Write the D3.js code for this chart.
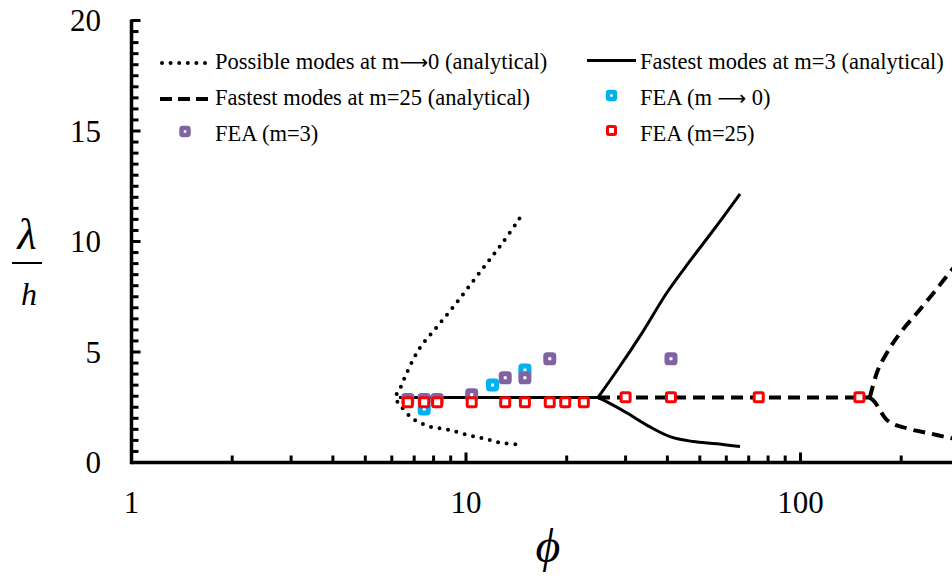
<!DOCTYPE html>
<html>
<head>
<meta charset="utf-8">
<script src="https://cdn.jsdelivr.net/npm/d3@7"></script>
<style>
  html, body { margin: 0; padding: 0; background: #fff; overflow: hidden; }
  svg { display: block; }
</style>
</head>
<body>
<svg id="chart" width="952" height="581" font-family="'Liberation Serif', 'Times New Roman', serif"></svg>
<script>
// Possible modes for m -> 0 (analytical), traced as one curve through the nose
const possiblePhi = [14.45, 12.94, 11.59, 10.31, 9.18, 8.16, 7.26, 6.64, 6.33, 6.15, 6.37, 6.92, 7.78, 8.81, 9.97, 11.28, 12.68, 14.35];
const possibleLam = [11.04, 10.0, 9.05, 8.05, 7.06, 6.11, 5.16, 4.03, 3.30, 2.94, 2.58, 1.99, 1.63, 1.49, 1.27, 1.09, 0.90, 0.81];

// Fastest modes at m=3 (analytical): plateau, then upper and lower branches
const m3FlatPhi = [6.3, 24.81];
const m3FlatLam = [2.94, 2.94];
const m3UpperPhi = [24.81, 28.48, 33.13, 40.17, 46.73, 55.52, 65.94];
const m3UpperLam = [2.94, 4.23, 5.72, 7.76, 9.12, 10.61, 12.15];
const m3LowerPhi = [24.81, 25.68, 30.29, 35.49, 40.74, 47.71, 56.28, 65.94];
const m3LowerLam = [2.94, 2.83, 2.24, 1.61, 1.17, 0.95, 0.85, 0.72];

// Fastest modes at m=25 (analytical)
const m25FlatPhi = [24.81, 161.1];
const m25FlatLam = [2.94, 2.94];
const m25UpperPhi = [161.1, 169.0, 181.0, 198.4, 222.6, 249.5, 283.1, 300.0];
const m25UpperLam = [2.94, 4.04, 4.94, 5.85, 6.75, 7.66, 8.71, 9.15];
const m25LowerPhi = [161.1, 164.6, 182.0, 208.9, 244.7, 284.7, 300.0];
const m25LowerLam = [2.94, 2.83, 1.90, 1.54, 1.31, 1.09, 1.03];

// FEA results
const feaM0Phi = [7.5, 12.0, 15.0];
const feaM0Lam = [2.42, 3.51, 4.19];
const feaM3Phi = [6.7, 7.5, 8.2, 10.4, 13.1, 15.0, 17.8, 41.0];
const feaM3Lam = [2.85, 2.85, 2.85, 3.06, 3.83, 3.83, 4.69, 4.69];
const feaM25Phi = [6.7, 7.5, 8.2, 10.4, 13.1, 15.0, 17.8, 19.8, 22.5, 30.0, 41.0, 75.0, 150.0];
const feaM25Lam = [2.73, 2.73, 2.73, 2.73, 2.73, 2.73, 2.73, 2.73, 2.73, 2.95, 2.95, 2.95, 2.95];

// Axis ticks
const xMajorTicks = [1, 10, 100];
const xTickLabels = ["1", "10", "100"];
const yMajorTicks = [0, 5, 10, 15, 20];
const yTickLabels = ["0", "5", "10", "15", "20"];

const zip = (a, b) => a.map((v, i) => [v, b[i]]);

const svg = d3.select("#chart");
const x = d3.scaleLog().domain([1, 1000]).range([131.5, 131.5 + 3 * 334.5]);
const y = d3.scaleLinear().domain([0, 20]).range([462.5, 20.5]);

const smooth = d3.line().x(d => x(d[0])).y(d => y(d[1])).curve(d3.curveCatmullRom.alpha(0.5));
const branch = d3.line().x(d => x(d[0])).y(d => y(d[1])).curve(d3.curveMonotoneX);
const straight = d3.line().x(d => x(d[0])).y(d => y(d[1]));

const plot = svg.append("g");

// Analytical curves
function drawCurve(data, style, gen) {
  const p = plot.append("path")
    .attr("d", gen(data))
    .attr("fill", "none")
    .attr("stroke", "#000");
  if (style === "dot") {
    p.attr("stroke-width", 4).attr("stroke-linecap", "round").attr("stroke-dasharray", "0 8.6");
  } else if (style === "dash") {
    p.attr("stroke-width", 4).attr("stroke-dasharray", "12 7");
  } else {
    p.attr("stroke-width", 3);
  }
}

drawCurve(zip(possiblePhi, possibleLam), "dot", smooth);
drawCurve(zip(m25FlatPhi, m25FlatLam), "dash", straight);
drawCurve(zip(m25UpperPhi, m25UpperLam), "dash", branch);
drawCurve(zip(m25LowerPhi, m25LowerLam), "dash", branch);
drawCurve(zip(m3FlatPhi, m3FlatLam), "solid", straight);
drawCurve(zip(m3UpperPhi, m3UpperLam), "solid", branch);
drawCurve(zip(m3LowerPhi, m3LowerLam), "solid", branch);

// FEA markers: coloured square frame with a white centre
function marker(g, cx, cy, color, inner, sw) {
  g.append("rect")
    .attr("x", cx - inner / 2).attr("y", cy - inner / 2)
    .attr("width", inner).attr("height", inner)
    .attr("rx", 1.2)
    .attr("fill", "#fff").attr("stroke", color).attr("stroke-width", sw);
}
const BLUE = "#00b0f0", PURPLE = "#8064a2", RED = "#ff0000";

zip(feaM0Phi, feaM0Lam).forEach(d => marker(plot, x(d[0]), y(d[1]), BLUE, 8, 5));
zip(feaM3Phi, feaM3Lam).forEach(d => marker(plot, x(d[0]), y(d[1]), PURPLE, 8, 5));
zip(feaM25Phi, feaM25Lam).forEach(d => marker(plot, x(d[0]), y(d[1]), RED, 9, 3));

// Axes
const axes = svg.append("g");
const x0 = x(1), y0 = y(0);

// x minor and major ticks (inside, pointing up)
const xMinor = [];
[1, 10, 100].forEach(dec => { for (let k = 2; k <= 9; k++) xMinor.push(dec * k); });
axes.selectAll(".xminor").data(xMinor).enter().append("line")
  .attr("x1", d => x(d)).attr("x2", d => x(d))
  .attr("y1", y0).attr("y2", y0 - 7)
  .attr("stroke", "#000").attr("stroke-width", 3);
axes.selectAll(".xmajor").data(xMajorTicks).enter().append("line")
  .attr("x1", d => x(d)).attr("x2", d => x(d))
  .attr("y1", y0).attr("y2", y0 - 10)
  .attr("stroke", "#000").attr("stroke-width", 3);

// y minor and major ticks (inside, pointing right)
const yMinor = d3.range(0.5, 20.01, 0.5).filter(v => v % 5 !== 0);
axes.selectAll(".yminor").data(yMinor).enter().append("line")
  .attr("x1", x0).attr("x2", x0 + 7)
  .attr("y1", d => y(d)).attr("y2", d => y(d))
  .attr("stroke", "#000").attr("stroke-width", 3);
axes.selectAll(".ymajor").data(yMajorTicks).enter().append("line")
  .attr("x1", x0).attr("x2", x0 + 9)
  .attr("y1", d => y(d)).attr("y2", d => y(d))
  .attr("stroke", "#000").attr("stroke-width", 3);

// axis lines
axes.append("line").attr("x1", x0).attr("x2", x(1000)).attr("y1", y0).attr("y2", y0)
  .attr("stroke", "#000").attr("stroke-width", 3.5);
axes.append("line").attr("x1", x0).attr("x2", x0).attr("y1", y(20) - 1).attr("y2", y0 + 1.75)
  .attr("stroke", "#000").attr("stroke-width", 3.5);

// tick labels
axes.selectAll(".xlab").data(xMajorTicks).enter().append("text")
  .attr("x", d => x(d)).attr("y", 513)
  .attr("text-anchor", "middle").attr("font-size", 31)
  .text((d, i) => xTickLabels[i]);
axes.selectAll(".ylab").data(yMajorTicks).enter().append("text")
  .attr("x", 101).attr("y", d => y(d) + 10.5)
  .attr("text-anchor", "end").attr("font-size", 31)
  .text((d, i) => yTickLabels[i]);

// axis titles
svg.append("text").attr("x", 548).attr("y", 562)
  .attr("text-anchor", "middle").attr("font-size", 48).attr("font-style", "italic")
  .text("\u03d5");
svg.append("text").attr("x", 27).attr("y", 249)
  .attr("text-anchor", "middle").attr("font-size", 44).attr("font-style", "italic")
  .text("\u03bb");
svg.append("line").attr("x1", 12).attr("x2", 42).attr("y1", 263).attr("y2", 263)
  .attr("stroke", "#000").attr("stroke-width", 2);
svg.append("text").attr("x", 29).attr("y", 305)
  .attr("text-anchor", "middle").attr("font-size", 32).attr("font-style", "italic")
  .text("h");

// Legend
const legend = svg.append("g").attr("font-size", 22.5);
const ARROW = "\u27f6";

function legendLine(x1, x2, yy, style) {
  const l = legend.append("line").attr("x1", x1).attr("x2", x2).attr("y1", yy).attr("y2", yy)
    .attr("stroke", "#000");
  if (style === "dot") l.attr("stroke-width", 4).attr("stroke-linecap", "round").attr("stroke-dasharray", "0 8.6");
  else if (style === "dash") l.attr("stroke-width", 4).attr("stroke-dasharray", "12 6");
  else l.attr("stroke-width", 3);
}
function legendText(xx, yy, parts) {
  const t = legend.append("text").attr("x", xx).attr("y", yy);
  parts.forEach(p => {
    const s = t.append("tspan").text(p.t);
    if (p.arrow) s.attr("font-family", "'DejaVu Sans'").attr("font-size", 20);
  });
}

legendLine(162, 208, 63, "dot");
legendText(215, 69, [{t: "Possible modes at m"}, {t: ARROW, arrow: true}, {t: "0 (analytical)"}]);
legendLine(160, 208, 99, "dash");
legendText(215, 105, [{t: "Fastest modes at m=25 (analytical)"}]);
marker(legend, 185, 131.5, PURPLE, 7, 4.5);
legendText(215, 141, [{t: "FEA (m=3)"}]);

legendLine(587, 636, 60.5, "solid");
legendText(640, 69, [{t: "Fastest modes at m=3 (analytical)"}]);
marker(legend, 611.5, 95.5, BLUE, 7, 4.5);
legendText(640, 105, [{t: "FEA (m "}, {t: ARROW, arrow: true}, {t: " 0)"}]);
marker(legend, 611.5, 130.5, RED, 8, 3);
legendText(640, 141, [{t: "FEA (m=25)"}]);
</script>
</body>
</html>
